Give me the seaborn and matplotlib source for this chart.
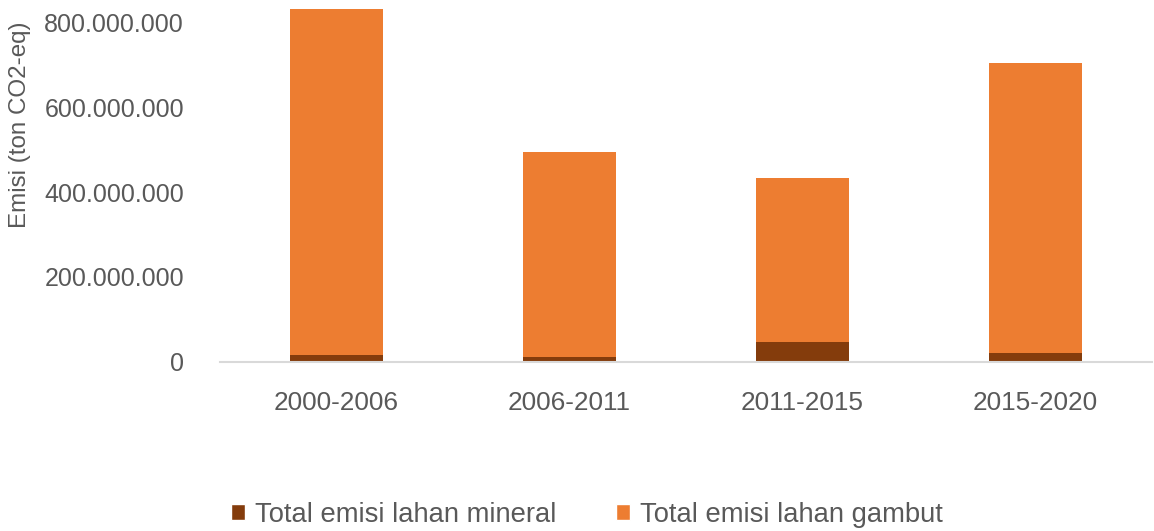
import pandas as pd
import matplotlib
matplotlib.use("Agg")
import matplotlib.pyplot as plt
import seaborn as sns
from matplotlib.patches import Patch
from matplotlib.ticker import FuncFormatter

periods = ["2000-2006", "2006-2011", "2011-2015", "2015-2020"]
mineral = [16_000_000, 12_000_000, 47_000_000, 20_000_000]
gambut = [816_000_000, 484_000_000, 386_000_000, 685_000_000]
y_ticks = [0, 200_000_000, 400_000_000, 600_000_000, 800_000_000]

MINERAL_COLOR = "#843C0C"
GAMBUT_COLOR = "#ED7D31"
TEXT_COLOR = "#595959"


def dotted_thousands(value, _pos):
    return f"{int(round(value)):,}".replace(",", ".")


def main() -> None:
    sns.set_theme(style="white")
    plt.rcParams["font.family"] = ["Liberation Sans", "DejaVu Sans"]

    df = pd.DataFrame({"Periode": periods, "Mineral": mineral, "Gambut": gambut})
    df["Total"] = df["Mineral"] + df["Gambut"]

    fig = plt.figure(figsize=(11.54, 5.31), dpi=100)
    ax = fig.add_axes([220 / 1154, 1 - 361.7 / 531, 932 / 1154, 361.7 / 531])

    # stacked: draw total in orange, then the mineral part over it
    sns.barplot(data=df, x="Periode", y="Total", color=GAMBUT_COLOR, width=0.4,
                saturation=1, linewidth=0, ax=ax)
    sns.barplot(data=df, x="Periode", y="Mineral", color=MINERAL_COLOR, width=0.4,
                saturation=1, linewidth=0, ax=ax)

    ax.set_xlim(-0.5, 3.5)
    ax.set_ylim(0, 853_700_000)
    ax.set_yticks(y_ticks)
    ax.yaxis.set_major_formatter(FuncFormatter(dotted_thousands))

    for side in ["top", "right", "left"]:
        ax.spines[side].set_visible(False)
    ax.spines["bottom"].set_color("#D9D9D9")
    ax.spines["bottom"].set_linewidth(1.5)

    ax.tick_params(axis="y", length=0, pad=26, labelsize=18, labelcolor=TEXT_COLOR)
    ax.tick_params(axis="x", length=0, pad=21, labelsize=18.8, labelcolor=TEXT_COLOR)

    ax.set_xlabel("")
    ax.set_ylabel("Emisi (ton CO2-eq)", fontsize=17.4, color=TEXT_COLOR)
    ax.yaxis.label.set(ha="center", va="center")
    ax.yaxis.set_label_coords((20 - 220) / 932, (361.7 - 125) / 361.7)

    handles = [
        Patch(facecolor=MINERAL_COLOR, label="Total emisi lahan mineral"),
        Patch(facecolor=GAMBUT_COLOR, label="Total emisi lahan gambut"),
    ]
    fig.legend(handles=handles, loc="center", bbox_to_anchor=(587 / 1154, 1 - 515 / 531),
               ncol=2, frameon=False, fontsize=19.7, labelcolor=TEXT_COLOR,
               handlelength=0.51, handleheight=0.51, handletextpad=0.36,
               columnspacing=2.2)

    fig.savefig("out.png", dpi=100)
    plt.close(fig)


if __name__ == "__main__":
    main()
